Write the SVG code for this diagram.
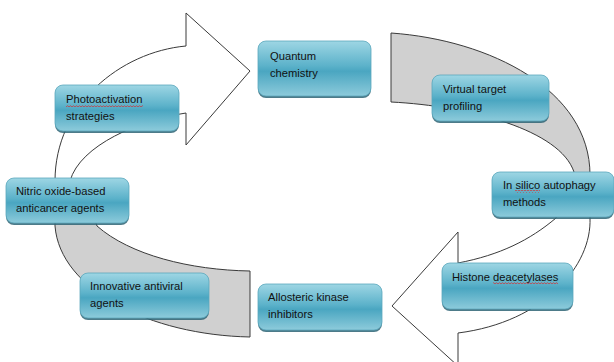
<svg xmlns="http://www.w3.org/2000/svg" width="614" height="362" viewBox="0 0 614 362">
<defs>
<linearGradient id="bx" x1="0" y1="0" x2="0" y2="1">
<stop offset="0" stop-color="#9ed6e4"/>
<stop offset="0.45" stop-color="#5cb2ca"/>
<stop offset="0.55" stop-color="#4aa6c1"/>
<stop offset="1" stop-color="#8dcbdb"/>
</linearGradient>
<pattern id="sq" width="3" height="3" patternUnits="userSpaceOnUse">
<path d="M0,2.2 L1.5,0.6 L3,2.2" stroke="#e02020" fill="none" stroke-width="0.7"/>
</pattern>
</defs>
<style>
.ar{fill:#ffffff;stroke:#3a3a3a;stroke-width:1}
.gb{fill:#d0d0d0;stroke:#3a3a3a;stroke-width:1}
.sh{fill:#2e6474;opacity:0.85}
.bx{fill:url(#bx);stroke:#5aa7bd;stroke-width:0.8}
.t{font-family:"Liberation Sans",Arial,sans-serif;font-size:11.2px;fill:#111111}
</style>
<rect width="614" height="362" fill="#ffffff"/>
<g id="connectors">
<path class="ar" d="M54,205 L55,181 C55,105 120,52 186,46 L186,13 L250,71 L186,145 L186,113 C140,120 80,145 70,181 L72,205 Z"/>
<path class="gb" d="M391,33 C490,40 590,90 590,175 L590,190 L576,190 L574,172 C560,130 470,106 391,102 Z"/>
<path class="ar" d="M560,205 L590,205 L590,218 C592,265 545,322 458,333 L458,366 L392,306 L458,232 L458,263 C500,255 530,240 556,218 L560,205 Z"/>
<path class="gb" d="M55,212 L55,226 C60,290 150,335 250,337 L250,271 C190,270 130,255 97,226 L92,212 Z"/>
</g>
<g id="quantum">
<rect class="sh" x="258" y="43" width="113" height="55" rx="8"/>
<rect class="bx" x="258" y="41" width="113" height="55" rx="8"/>
<text class="t" x="270" y="60">Quantum</text>
<text class="t" x="270" y="77">chemistry</text>
</g>
<g id="virtual">
<rect class="sh" x="432" y="77" width="117" height="46" rx="8"/>
<rect class="bx" x="432" y="75" width="117" height="46" rx="8"/>
<text class="t" x="443" y="93">Virtual target</text>
<text class="t" x="443" y="110">profiling</text>
</g>
<g id="insilico">
<rect class="sh" x="492" y="174" width="122" height="45" rx="8"/>
<rect class="bx" x="492" y="172" width="122" height="45" rx="8"/>
<text class="t" x="503" y="189">In silico autophagy</text>
<text class="t" x="503" y="206">methods</text>
<rect x="515" y="190" width="25" height="3" fill="url(#sq)"/>
</g>
<g id="histone">
<rect class="sh" x="442" y="265" width="131" height="46" rx="8"/>
<rect class="bx" x="442" y="263" width="131" height="46" rx="8"/>
<text class="t" x="452" y="281">Histone deacetylases</text>
<rect x="493" y="282" width="65" height="3" fill="url(#sq)"/>
</g>
<g id="allosteric">
<rect class="sh" x="258" y="286" width="124" height="46" rx="8"/>
<rect class="bx" x="258" y="284" width="124" height="46" rx="8"/>
<text class="t" x="268" y="301">Allosteric kinase</text>
<text class="t" x="268" y="318">inhibitors</text>
</g>
<g id="antiviral">
<rect class="sh" x="80" y="275" width="129" height="45" rx="8"/>
<rect class="bx" x="80" y="273" width="129" height="45" rx="8"/>
<text class="t" x="90" y="290">Innovative antiviral</text>
<text class="t" x="90" y="307">agents</text>
</g>
<g id="nitric">
<rect class="sh" x="6" y="180" width="123" height="45" rx="8"/>
<rect class="bx" x="6" y="178" width="123" height="45" rx="8"/>
<text class="t" x="16" y="195">Nitric oxide-based</text>
<text class="t" x="16" y="212">anticancer agents</text>
</g>
<g id="photo">
<rect class="sh" x="55" y="87" width="124" height="46" rx="8"/>
<rect class="bx" x="55" y="85" width="124" height="46" rx="8"/>
<text class="t" x="66" y="103">Photoactivation</text>
<text class="t" x="66" y="120">strategies</text>
<rect x="66" y="104" width="77" height="3" fill="url(#sq)"/>
</g>
</svg>
